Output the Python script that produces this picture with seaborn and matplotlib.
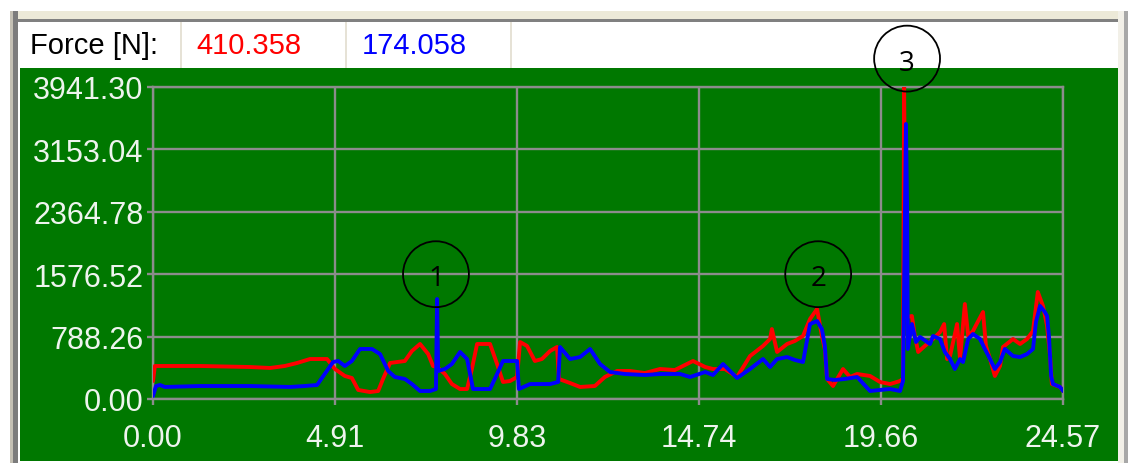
import numpy as np
import pandas as pd
import matplotlib
matplotlib.use("Agg")
import matplotlib.pyplot as plt
import seaborn as sns
from matplotlib.patches import Rectangle

# Force channel 1 (red): time [s] and force [N]
t_red = [0.00, 0.05, 1.27, 2.62, 3.16, 3.56, 3.89, 4.24, 4.70, 4.91, 5.18, 5.37, 5.54,
         5.86, 6.08, 6.21, 6.40, 6.59, 6.80, 6.99, 7.21, 7.43, 7.56, 7.67, 7.88, 8.07,
         8.29, 8.48, 8.61, 8.75, 9.10, 9.29, 9.45, 9.64, 9.83, 9.91, 10.10, 10.31, 10.50,
         10.72, 10.91, 10.96, 11.26, 11.53, 11.93, 12.20, 12.53, 12.88, 13.28, 13.69,
         14.09, 14.58, 14.91, 15.12, 15.44, 15.77, 16.12, 16.47, 16.66, 16.71, 16.85,
         17.12, 17.33, 17.55, 17.74, 17.93, 18.06, 18.14, 18.20, 18.36, 18.63, 18.82,
         19.01, 19.36, 19.63, 19.90, 20.17, 20.25, 20.28, 20.33, 20.49, 20.57, 20.66,
         20.84, 21.06, 21.25, 21.36, 21.44, 21.52, 21.71, 21.79, 21.92, 22.01, 22.14,
         22.28, 22.41, 22.49, 22.60, 22.73, 22.87, 22.95, 23.22, 23.41, 23.60, 23.76,
         23.89, 24.03, 24.14, 24.22, 24.27, 24.49, 24.57]
f_red = [227, 417, 417, 404, 392, 417, 455, 505, 505, 379, 291, 265, 114,
         88, 101, 253, 455, 467, 480, 606, 695, 568, 417, 404, 316, 189,
         126, 126, 379, 695, 695, 442, 215, 227, 278, 720, 670, 480, 505,
         606, 657, 253, 202, 152, 164, 278, 354, 354, 328, 379,
         366, 480, 404, 379, 379, 278, 543, 670, 758, 884, 594,
         695, 733, 796, 1011, 1137, 796, 632, 253, 164, 379, 278,
         316, 291, 215, 189, 227, 253, 3941.30, 1036, 1048, 796, 594,
         670, 758, 846, 947, 505, 543, 947, 505, 1200, 796, 859,
         985, 1099, 670, 505, 291, 417, 657, 758, 695, 758, 859,
         1352, 1175, 922, 543, 189, 152, 101]

# Force channel 2 (blue): time [s] and force [N]
t_blue = [0.00, 0.08, 0.19, 0.32, 1.27, 2.62, 3.70, 4.10, 4.43, 4.86, 5.00, 5.18, 5.37,
          5.59, 5.91, 6.13, 6.35, 6.53, 6.80, 6.99, 7.21, 7.48, 7.64, 7.67, 7.70, 7.88,
          8.07, 8.29, 8.48, 8.64, 9.10, 9.29, 9.45, 9.83, 9.88, 10.18, 10.72, 10.94,
          10.99, 11.26, 11.53, 11.80, 12.07, 12.34, 12.74, 13.28, 13.69, 14.23, 14.50,
          14.91, 15.12, 15.39, 15.77, 16.12, 16.47, 16.66, 16.85, 17.12, 17.33, 17.55,
          17.74, 17.93, 18.06, 18.14, 18.20, 18.41, 18.68, 19.01, 19.36, 19.63, 19.90,
          20.17, 20.25, 20.33, 20.36, 20.38, 20.49, 20.60, 20.71, 20.98, 21.06, 21.25,
          21.38, 21.52, 21.65, 21.79, 21.87, 22.01, 22.14, 22.33, 22.46, 22.60, 22.73,
          22.87, 23.00, 23.22, 23.41, 23.60, 23.76, 23.84, 23.95, 24.08, 24.14, 24.19,
          24.25, 24.30, 24.49, 24.57]
f_blue = [38, 164, 177, 152, 164, 164, 152, 164, 177, 467, 480, 417, 480,
          632, 632, 568, 354, 278, 253, 189, 101, 101, 126, 1263, 354, 379,
          442, 594, 505, 126, 126, 316, 480, 480, 126, 189, 189, 215,
          657, 505, 530, 632, 442, 341, 316, 303, 316, 316, 278,
          341, 303, 442, 265, 379, 505, 404, 505, 530, 493, 467,
          947, 985, 884, 670, 253, 240, 253, 278, 101, 114, 126,
          101, 227, 3474, 2438, 632, 947, 720, 783, 695, 796, 758,
          594, 505, 379, 505, 467, 758, 821, 758, 632, 505, 379,
          467, 632, 543, 530, 568, 632, 973, 1175, 1099, 1048, 796,
          291, 189, 152, 101]

x_tick_labels = ["0.00", "4.91", "9.83", "14.74", "19.66", "24.57"]
y_tick_labels = ["0.00", "788.26", "1576.52", "2364.78", "3153.04", "3941.30"]
t_max = 24.57
f_max = 3941.30

readout_label = "Force [N]:"
readout_red = "410.358"
readout_blue = "174.058"

event_labels = ["1", "2", "3"]
event_t = [7.64, 17.96, 20.36]
event_f = [1576.52, 1576.52, 4300.0]

W, H = 1133, 464
sns.set_theme(style="white")
plt.rcParams["font.family"] = ["Liberation Sans", "DejaVu Sans"]

fig = plt.figure(figsize=(W / 100, H / 100), dpi=100)
fig.patch.set_facecolor("white")


def panel(x0, y0, x1, y1, color):
    """Filled rectangle given in pixel units measured from the top-left corner."""
    fig.add_artist(Rectangle((x0 / W, 1 - y1 / H), (x1 - x0) / W, (y1 - y0) / H,
                             transform=fig.transFigure, facecolor=color,
                             edgecolor="none", zorder=0))


# window frame
panel(10, 12, 1128, 20, "#ece9d8")
panel(17, 20, 1118, 23, "#808080")
panel(10, 12, 13, 464, "#c4c0b4")
panel(13, 12, 18, 464, "#7c7c7c")
panel(1118, 12, 1124, 464, "#f2f0e8")
panel(1124, 12, 1128, 464, "#a8a8a8")
# read-out header
panel(18, 23, 1118, 69, "white")
for sx in (180, 345, 510):
    panel(sx, 23, sx + 2, 69, "#e6e2d6")
# plot background
panel(20, 69, 1118, 462, "#007800")

hdr_y = 1 - 46 / H
fig.text(30 / W, hdr_y, readout_label, color="black", fontsize=21, va="center", ha="left")
fig.text(196 / W, hdr_y, readout_red, color="#ff0000", fontsize=21, va="center", ha="left")
fig.text(362 / W, hdr_y, readout_blue, color="#0000ff", fontsize=21, va="center", ha="left")

ax = fig.add_axes([153 / W, 1 - 400 / H, 910 / W, 312 / H])
ax.set_facecolor("none")

df_red = pd.DataFrame({"t": t_red, "f": f_red})
df_blue = pd.DataFrame({"t": t_blue, "f": f_blue})
sns.lineplot(data=df_red, x="t", y="f", ax=ax, color="#ff0000", linewidth=2.8,
             sort=False, estimator=None, zorder=3)
sns.lineplot(data=df_blue, x="t", y="f", ax=ax, color="#0000ff", linewidth=2.8,
             sort=False, estimator=None, zorder=4)

ax.set_xlim(0, t_max)
ax.set_ylim(0, f_max)
ax.set_xticks(np.linspace(0, t_max, len(x_tick_labels)))
ax.set_xticklabels(x_tick_labels)
ax.set_yticks(np.linspace(0, f_max, len(y_tick_labels)))
ax.set_yticklabels(y_tick_labels)
ax.set_xlabel("")
ax.set_ylabel("")

grid_c = "#8c8c8c"
ax.grid(True, color=grid_c, linewidth=1.7)
ax.set_axisbelow(True)
for s in ax.spines.values():
    s.set_color(grid_c)
    s.set_linewidth(1.7)
ax.tick_params(axis="both", colors=grid_c, labelcolor="#eef4ee", labelsize=22,
               length=4, width=1.7, direction="out")
ax.tick_params(axis="x", pad=13)
ax.tick_params(axis="y", pad=3)
ax.tick_params(left=True, bottom=True)

# numbered event markers
ax.scatter(event_t, event_f, s=2250, facecolors="none", edgecolors="black",
           linewidths=1.3, clip_on=False, zorder=6)
for lab, tx, fy in zip(event_labels, event_t, event_f):
    ax.annotate(lab, (tx, fy), xytext=(0, -3), textcoords="offset points",
                ha="center", va="center", fontsize=20, color="black",
                family=["Open Sans", "DejaVu Sans"], annotation_clip=False, zorder=7)

fig.savefig("out.png", dpi=100, facecolor=fig.get_facecolor())
